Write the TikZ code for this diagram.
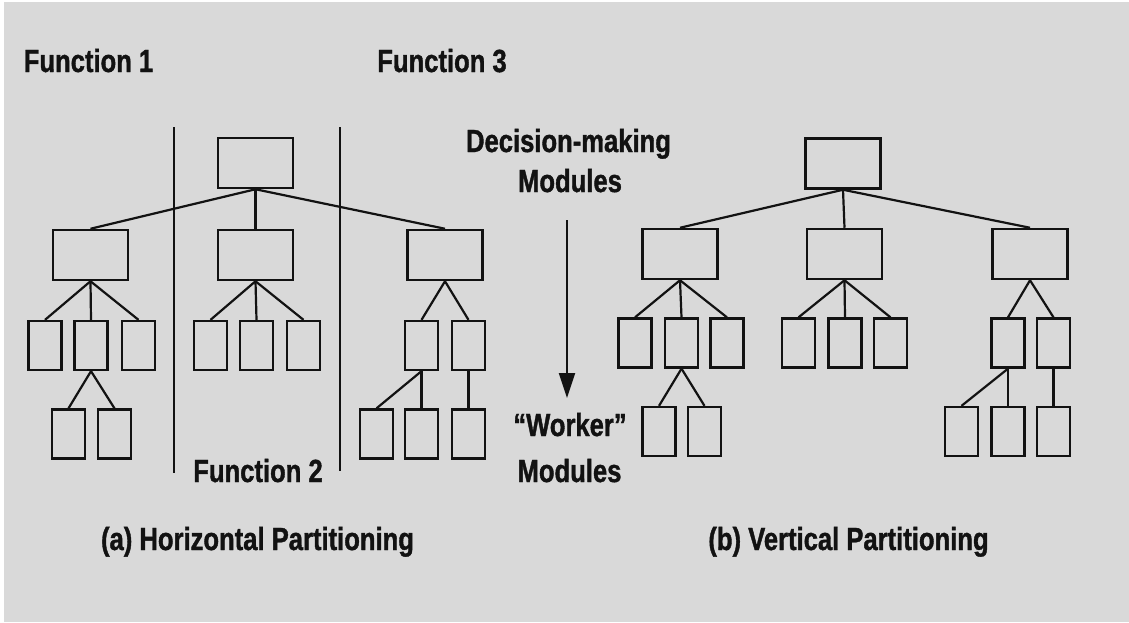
\documentclass[tikz,border=0pt]{standalone}
\usepackage{fontspec}
\setmainfont{Liberation Sans}[FakeStretch=0.8, BoldFeatures={FakeBold=1.2}]
\usetikzlibrary{arrows.meta}
\definecolor{paper}{RGB}{217,217,217}
\definecolor{ink}{RGB}{18,18,18}
\begin{document}
\begin{tikzpicture}[x=0.5pt,y=-0.5pt,
  bigbox/.style={draw=ink, line width=1.25pt, minimum width=37.5pt, minimum height=25pt, inner sep=0pt},
  leaf/.style={draw=ink, line width=1.15pt, minimum width=16.5pt, minimum height=24.5pt, inner sep=0pt},
  link/.style={draw=ink, line width=1.1pt},
  divider/.style={draw=ink, line width=1.4pt},
  lbl/.style={text=ink, font=\fontsize{16}{19}\selectfont\bfseries, inner sep=0pt, anchor=base}]
% page
\fill[white] (0,0) rectangle (1129,622);
\fill[paper] (4,2) rectangle (1129,622);
\useasboundingbox (0,0) rectangle (1129,622);

% ---------- (a) horizontal partitioning ----------
\node[bigbox] (aT)  at (255.5,163) {};
\node[bigbox] (aM1) at (90.5,255) {};
\node[bigbox] (aM2) at (255.5,255) {};
\node[bigbox] (aM3) at (445,255) {};
\node[leaf] (aL1) at (45,345.5) {};
\node[leaf] (aL2) at (91,345.5) {};
\node[leaf] (aL3) at (138.5,345.5) {};
\node[leaf] (aC1) at (210.5,345.5) {};
\node[leaf] (aC2) at (256.5,345.5) {};
\node[leaf] (aC3) at (303.5,345.5) {};
\node[leaf] (aR1) at (421.5,345.5) {};
\node[leaf] (aR2) at (468.5,345.5) {};
\node[leaf] (aL21) at (68.5,434) {};
\node[leaf] (aL22) at (114.5,434) {};
\node[leaf] (aR21) at (376.5,434) {};
\node[leaf] (aR22) at (421.5,434) {};
\node[leaf] (aR23) at (468.5,434) {};

% dividers between the functions
\coordinate (d1t) at (174,127); \coordinate (d1b) at (174,473);
\coordinate (d2t) at (340,127); \coordinate (d2b) at (340,471);
\draw[divider] (d1t) -- (d1b);
\draw[divider] (d2t) -- (d2b);

% ---------- (b) vertical partitioning ----------
\node[bigbox] (bT)  at (843,163.5) {};
\node[bigbox] (bM1) at (680,254) {};
\node[bigbox] (bM2) at (844.5,254) {};
\node[bigbox] (bM3) at (1030,254) {};
\node[leaf] (bL1) at (635,343) {};
\node[leaf] (bL2) at (681.5,343) {};
\node[leaf] (bL3) at (727,343) {};
\node[leaf] (bC1) at (798.5,343) {};
\node[leaf] (bC2) at (845,343) {};
\node[leaf] (bC3) at (890.5,343) {};
\node[leaf] (bR1) at (1008,343) {};
\node[leaf] (bR2) at (1053.5,343) {};
\node[leaf] (bL21) at (659,431.5) {};
\node[leaf] (bL22) at (704.5,431.5) {};
\node[leaf] (bR21) at (961.5,431.5) {};
\node[leaf] (bR22) at (1008,431.5) {};
\node[leaf] (bR23) at (1053.5,431.5) {};

% tree connectors, same pattern in both hierarchies
\foreach \p in {a,b}{
  \foreach \c in {M1,M2,M3} \draw[link] (\p T.south) -- (\p\c.north);
  \foreach \c in {L1,L2,L3} \draw[link] (\p M1.south) -- (\p\c.north);
  \foreach \c in {C1,C2,C3} \draw[link] (\p M2.south) -- (\p\c.north);
  \foreach \c in {R1,R2} \draw[link] (\p M3.south) -- (\p\c.north);
  \foreach \c in {L21,L22} \draw[link] (\p L2.south) -- (\p\c.north);
  \foreach \c in {R21,R22} \draw[link] (\p R1.south) -- (\p\c.north);
  \draw[link] (\p R2.south) -- (\p R23.north);
}

% ---------- labels ----------
\node[lbl] (f1) at (88.5,72) {Function 1};
\node[lbl] (f3) at (442,72) {Function 3};
\node[lbl] (f2) at (258,482) {Function 2};
\node[lbl] (dm1) at (568.5,152) {Decision-making};
\node[lbl] (dm2) at (570,192) {Modules};
\node[lbl] (wk1) at (570,436) {“Worker”};
\node[lbl] (wk2) at (569.5,482) {Modules};
\node[lbl] (capa) at (257.5,550) {(a) Horizontal Partitioning};
\node[lbl] (capb) at (848.5,550) {(b) Vertical Partitioning};

% direction of control
\coordinate (arS) at (567,220);
\coordinate (arE) at (567,398);
\draw[link, -{Triangle[length=12.5pt,width=8pt]}] (arS) -- (arE);
\end{tikzpicture}
\end{document}
